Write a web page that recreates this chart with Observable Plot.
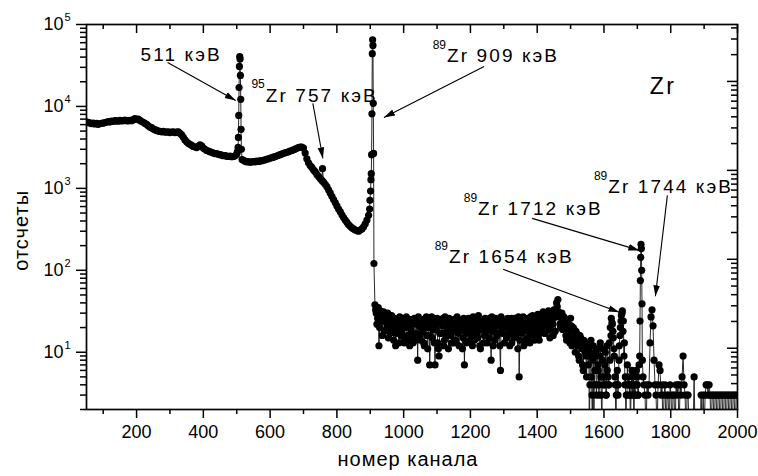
<!DOCTYPE html>
<html><head><meta charset="utf-8">
<script src="https://cdn.jsdelivr.net/npm/d3@7"></script>
<script src="https://cdn.jsdelivr.net/npm/@observablehq/plot@0.6"></script>
<style>body{margin:0;background:#fff}</style>
</head><body><div id="chart"></div>
<script>
const FONT = "'Liberation Sans', Arial, Helvetica, sans-serif";

// ---- spectrum data (channel, counts) ----
const bgLowStart = 50, bgLowStep = 5;
const bgLowCounts = [
  6500, 6350, 6300, 6150, 6250, 6100, 6200, 6050, 6150, 6200,
  6250, 6350, 6400, 6550, 6450, 6600, 6550, 6700, 6650, 6600,
  6750, 6650, 6700, 6800, 6700, 6650, 6750, 6700, 6900, 7100,
  6950, 7000, 6750, 6550, 6400, 6200, 6050, 5800, 5600, 5500,
  5300, 5200, 5100, 5000, 4950, 4900, 4950, 4850, 4850, 4900,
  4800, 4850, 4900, 4800, 4850, 4900, 4700, 4500, 4200, 3900,
  3700, 3550, 3450, 3350, 3250, 3200, 3150, 3250, 3400, 3300,
  3100, 3000, 2900, 2850, 2800, 2750, 2700, 2650, 2650, 2600,
  2580, 2550, 2500, 2520, 2470, 2450, 2480, 2430, 2450, 2500];

const peak511Ch = [500, 502, 504, 505, 506, 507, 508, 509, 510, 511, 512, 513, 514, 516];
const peak511Counts = [2600, 2800, 3160, 4190, 7760, 17000, 30800, 40700, 38000, 23900, 12200, 5250, 3000, 2250];

const bgMidStart = 520, bgMidStep = 5;
const bgMidCounts = [
  2200, 2150, 2100, 2120, 2080, 2100, 2120, 2100, 2150, 2130,
  2160, 2180, 2200, 2230, 2260, 2300, 2330, 2370, 2400, 2450,
  2480, 2530, 2580, 2620, 2680, 2720, 2760, 2800, 2850, 2900,
  2950, 3020, 3080, 3150, 3180, 3200, 3100, 2700, 2300, 2050,
  1900, 1800, 1680, 1600, 1480, 1400, 1320, 1250, 1190, 1120,
  1050, 960, 880, 800, 730, 670, 610, 560, 520, 475,
  440, 410, 385, 360, 345, 330, 320, 310, 305, 300,
  310, 320, 340, 370, 410, 470];

const peak757Ch = [757];
const peak757Counts = [1740];

const peak909Ch = [898, 899, 901, 902, 903, 904, 905, 906, 907, 908, 909, 910, 911];
const peak909Counts = [560, 714, 927, 1276, 1510, 2575, 8130, 44000, 65000, 55500, 10900, 2670, 121];

const noiseStart = 914, noiseStep = 4;
const noiseCounts = [
  38, 30, 26, 12, 32, 24, 28, 18, 27, 22,
  15, 26, 19, 24, 14, 22, 17, 25, 13, 21,
  18, 23, 13, 20, 16, 24, 12, 19, 22, 15,
  25, 17, 8, 21, 14, 23, 18, 12, 24, 16,
  20, 7, 22, 15, 25, 7, 19, 13, 9, 23,
  17, 26, 14, 21, 18, 11, 24, 16, 20, 13,
  25, 18, 22, 12, 19, 24, 15, 7, 21, 17,
  26, 14, 20, 12, 23, 18, 25, 15, 21, 11,
  19, 24, 16, 22, 13, 20, 26, 8, 18, 23,
  14, 21, 17, 25, 6, 19, 22, 13, 24, 16,
  20, 12, 26, 18, 15, 23, 19, 11, 5, 21,
  17, 27, 14, 22, 18, 25, 13, 20, 28, 16,
  23, 19, 29, 14, 24, 20, 31, 17, 25, 21,
  32, 15, 26, 22, 33, 18, 40, 44, 28, 20,
  30, 24, 22, 16, 25, 18, 13, 21, 15, 19,
  10, 17, 12, 8, 15, 11, 6, 13, 9, 12];

const noise2Start = 916, noise2Step = 4;
const noise2Counts = [
  33, 22, 35, 20, 29, 16, 31, 25, 19, 30,
  23, 17, 28, 20, 26, 12, 24, 19, 27, 16,
  26, 15, 22, 27, 14, 21, 25, 17, 13, 26,
  14, 22, 27, 16, 20, 25, 13, 21, 27, 11,
  24, 16, 27, 19, 13, 22, 26, 11, 17, 25,
  21, 12, 27, 16, 23, 26, 19, 13, 25, 22,
  14, 27, 17, 24, 21, 11, 26, 18, 13, 23,
  19, 25, 16, 27, 14, 21, 17, 28, 12, 24,
  22, 13, 26, 18, 24, 15, 21, 27, 12, 20,
  26, 16, 22, 12, 27, 17, 24, 20, 15, 26,
  17, 23, 13, 21, 26, 16, 22, 27, 14, 19,
  24, 12, 26, 20, 15, 23, 27, 17, 22, 14,
  27, 21, 16, 26, 19, 30, 22, 17, 28, 24,
  19, 29, 25, 16, 30, 27, 36, 31, 22, 26,
  19, 27, 21, 14, 23, 17, 26, 12, 20, 14,
  18, 13, 9, 16, 12, 7, 14, 10, 5, 11];

const tailAStart = 1553, tailAStep = 3;
const tailACounts = [
  7, 1, 10, 5, 1, 12, 4, 9, 3, 11,
  6, 4, 13, 3, 8, 5, 4, 10, 3, 6,
  4, 13, 20, 26, 22, 15, 9, 4, 3, 6,
  4, 12, 20, 28, 32, 24, 13, 5, 3, 7,
  4, 3, 1, 4, 3, 5, 4, 3, 6, 4,
  3];

const tailA2Start = 1555, tailA2Step = 3;
const tailA2Counts = [
  9, 4, 14, 3, 8, 1, 6, 10, 4, 7,
  3, 9, 5, 1, 11, 4, 7, 3, 12, 5,
  4, 8, 16, 23, 18, 11, 5, 1, 4, 3,
  8, 16, 24, 30, 18, 9, 4, 1, 3, 4,
  5, 4, 3, 6, 4, 1, 3, 4, 5, 3];

const peak1712Ch = [1705, 1707, 1708, 1709, 1710, 1711, 1712, 1713, 1714, 1715, 1717];
const peak1712Counts = [7, 9, 24, 75, 144, 208, 184, 100, 39, 8, 5];

const tailBStart = 1720, tailBStep = 3;
const tailBCounts = [
  4, 3, 1, 4, 3, 4, 13, 27, 33, 21,
  8, 4, 3, 1, 4, 7, 6, 3, 4, 1,
  3, 4, 1, 3, 3, 1, 4, 3, 1, 3,
  3, 1, 4, 3, 4, 1, 4, 3, 5, 9,
  4, 3, 1, 3, 3, 1, 1, 1, 1, 1,
  5, 1, 1, 1, 1, 1, 1, 3, 1, 3,
  1, 3, 4, 4, 3, 4, 3, 1, 3, 3,
  1, 3, 3, 1, 3, 3, 1, 3, 3, 1,
  3, 3, 1, 3, 3, 1, 3, 3, 1, 3,
  3, 1, 3, 3];

// ---- axes ----
const xMajorTicks = [200, 400, 600, 800, 1000, 1200, 1400, 1600, 1800, 2000];
const xMinorTicks = [100, 300, 500, 700, 900, 1100, 1300, 1500, 1700, 1900];
const yMajorTicks = [10, 100, 1000, 10000, 100000];
const yMinorTicks = [2, 3, 4, 5, 6, 7, 8, 9, 20, 30, 40, 50, 60, 70, 80, 90,
  200, 300, 400, 500, 600, 700, 800, 900, 2000, 3000, 4000, 5000, 6000, 7000, 8000, 9000,
  20000, 30000, 40000, 50000, 60000, 70000, 80000, 90000];
// opposite (right) axis has its own unlabeled log scale
const rightMajorTicks = [1, 10, 100, 1000];
const rightMinorTicks = [0.3, 0.4, 0.5, 0.6, 0.7, 0.8, 0.9, 2, 3, 4, 5, 6, 7, 8, 9,
  20, 30, 40, 50, 60, 70, 80, 90, 200, 300, 400, 500, 600, 700, 800, 900, 2000, 3000, 4000];
const rightToLeft = r => 10 ** (1.049 + 1.0854 * Math.log10(r));

// ---- annotations ----
const labelTexts = ["511 кэВ", "Zr 757 кэВ", "Zr 909 кэВ", "Zr 1744 кэВ", "Zr 1712 кэВ", "Zr 1654 кэВ"];
const labelSups = ["", "95", "89", "89", "89", "89"];
const labelCh = [212, 587, 1130, 1613, 1223, 1136];
const labelCounts = [43100, 13600, 40800, 1028, 555, 144];
const arrowFromCh = [293, 728, 1241, 1790, 1385, 1298];
const arrowFromCounts = [34400, 10900, 30700, 822, 430, 103];
const arrowToCh = [497, 758, 941, 1754, 1706, 1646];
const arrowToCounts = [11800, 2320, 7350, 48.2, 175, 30.7];
const elementLabel = {text: "Zr", ch: 1737, counts: 17500};
const xTitle = "номер канала";
const yTitle = {text: "отсчеты", counts: 307};

// ---- build tables ----
const spectrum = [];
const addRegular = (start, step, counts) => counts.forEach((c, i) => spectrum.push({ch: start + i * step, counts: c}));
const addList = (chs, counts) => chs.forEach((ch, i) => spectrum.push({ch, counts: counts[i]}));
addRegular(bgLowStart, bgLowStep, bgLowCounts);
addList(peak511Ch, peak511Counts);
addRegular(bgMidStart, bgMidStep, bgMidCounts);
addList(peak757Ch, peak757Counts);
addList(peak909Ch, peak909Counts);
addRegular(noiseStart, noiseStep, noiseCounts);
addRegular(noise2Start, noise2Step, noise2Counts);
addRegular(tailAStart, tailAStep, tailACounts);
addRegular(tailA2Start, tailA2Step, tailA2Counts);
addList(peak1712Ch, peak1712Counts);
addRegular(tailBStart, tailBStep, tailBCounts);
spectrum.sort((a, b) => a.ch - b.ch);

const labels = labelTexts.map((t, i) => ({text: t, sup: labelSups[i], ch: labelCh[i], counts: labelCounts[i]}));
const arrows = arrowFromCh.map((c, i) => ({x1: c, y1: arrowFromCounts[i], x2: arrowToCh[i], y2: arrowToCounts[i]}));

const W = 758, H = 476, ML = 86, MR = 21, MT = 24, MB = 67;
const FW = W - ML - MR, FH = H - MT - MB;

const headMarker = (color) => {
  const m = d3.create("svg:marker")
    .attr("viewBox", "-11 -4 12 8").attr("markerWidth", 12).attr("markerHeight", 8)
    .attr("markerUnits", "userSpaceOnUse").attr("orient", "auto").attr("refX", 0).attr("refY", 0);
  m.append("path").attr("d", "M-11,-3.3L0,0L-11,3.3Z").attr("fill", color).attr("stroke", "none");
  return m.node();
};

function build(marker) {
  return Plot.plot({
    width: W, height: H,
    marginLeft: ML, marginRight: MR, marginTop: MT, marginBottom: MB,
    style: {fontFamily: FONT, fontSize: "18px", background: "white", color: "black"},
    x: {domain: [50, 2000], label: null},
    y: {type: "log", domain: [2, 100000], label: null},
    marks: [
      Plot.line(spectrum, {x: "ch", y: "counts", stroke: "#111", strokeWidth: 0.9, clip: true}),
      Plot.dot(spectrum, {x: "ch", y: "counts", r: 3.6, fill: "black", stroke: "none", clip: true}),
      // bottom axis
      Plot.axisX(xMajorTicks, {anchor: "bottom", tickSize: 9, tickPadding: 7, strokeWidth: 1.5,
        tickFormat: d => String(d), label: null}),
      Plot.axisX(xMinorTicks, {anchor: "bottom", tickSize: 5, strokeWidth: 1.5, tickFormat: () => "", label: null}),
      // top inward ticks
      Plot.tickX(xMajorTicks, {x: d => d, insetBottom: FH - 9, stroke: "black", strokeWidth: 1.5}),
      Plot.tickX(xMinorTicks, {x: d => d, insetBottom: FH - 5, stroke: "black", strokeWidth: 1.5}),
      // left axis
      Plot.axisY(yMajorTicks, {anchor: "left", tickSize: 10, strokeWidth: 1.5, tickFormat: () => "", label: null}),
      Plot.axisY(yMinorTicks, {anchor: "left", tickSize: 6, strokeWidth: 1.5, tickFormat: () => "", label: null}),
      Plot.text(yMajorTicks, {y: d => d, frameAnchor: "left", text: () => "10", textAnchor: "end", dx: -23, fontSize: 18}),
      Plot.text(yMajorTicks, {y: d => d, frameAnchor: "left", text: d => String(Math.round(Math.log10(d))), textAnchor: "start", dx: -22, dy: -7, fontSize: 11}),
      // right inward ticks
      Plot.tickY(rightMajorTicks, {y: d => rightToLeft(d), insetLeft: FW - 10, stroke: "black", strokeWidth: 1.5}),
      Plot.tickY(rightMinorTicks, {y: d => rightToLeft(d), insetLeft: FW - 6, stroke: "black", strokeWidth: 1.5}),
      Plot.frame({stroke: "black", strokeWidth: 1.7}),
      // annotations
      Plot.link(arrows, {x1: "x1", y1: "y1", x2: "x2", y2: "y2", stroke: "black", strokeWidth: 1.1, markerEnd: marker}),
      Plot.text(labels, {x: "ch", y: "counts", text: "text", textAnchor: "start", fontSize: 19}),
      Plot.text(labels, {x: "ch", y: "counts", text: "sup", textAnchor: "end", dx: -1, dy: -11, fontSize: 12}),
      Plot.text([elementLabel], {x: "ch", y: "counts", text: "text", textAnchor: "start", fontSize: 23}),
      // axis titles
      Plot.text([xTitle], {frameAnchor: "bottom", text: d => d, textAnchor: "middle", dy: 56, dx: -4, fontSize: 20}),
      Plot.text([yTitle], {y: "counts", frameAnchor: "left", text: "text", textAnchor: "middle", rotate: -90, dx: -65, fontSize: 20})
    ]
  });
}

let chart;
try { chart = build(headMarker); } catch (e) { chart = build("arrow"); }
d3.select(chart).selectAll("text").each(function () {
  const t = this.textContent;
  if (t.includes("кэВ")) this.style.letterSpacing = "2.1px";
  else if (t === "Zr") this.style.letterSpacing = "2.5px";
  else if (t === xTitle || t === yTitle.text) this.style.letterSpacing = "1px";
});
document.getElementById("chart").appendChild(chart);
</script></body></html>
